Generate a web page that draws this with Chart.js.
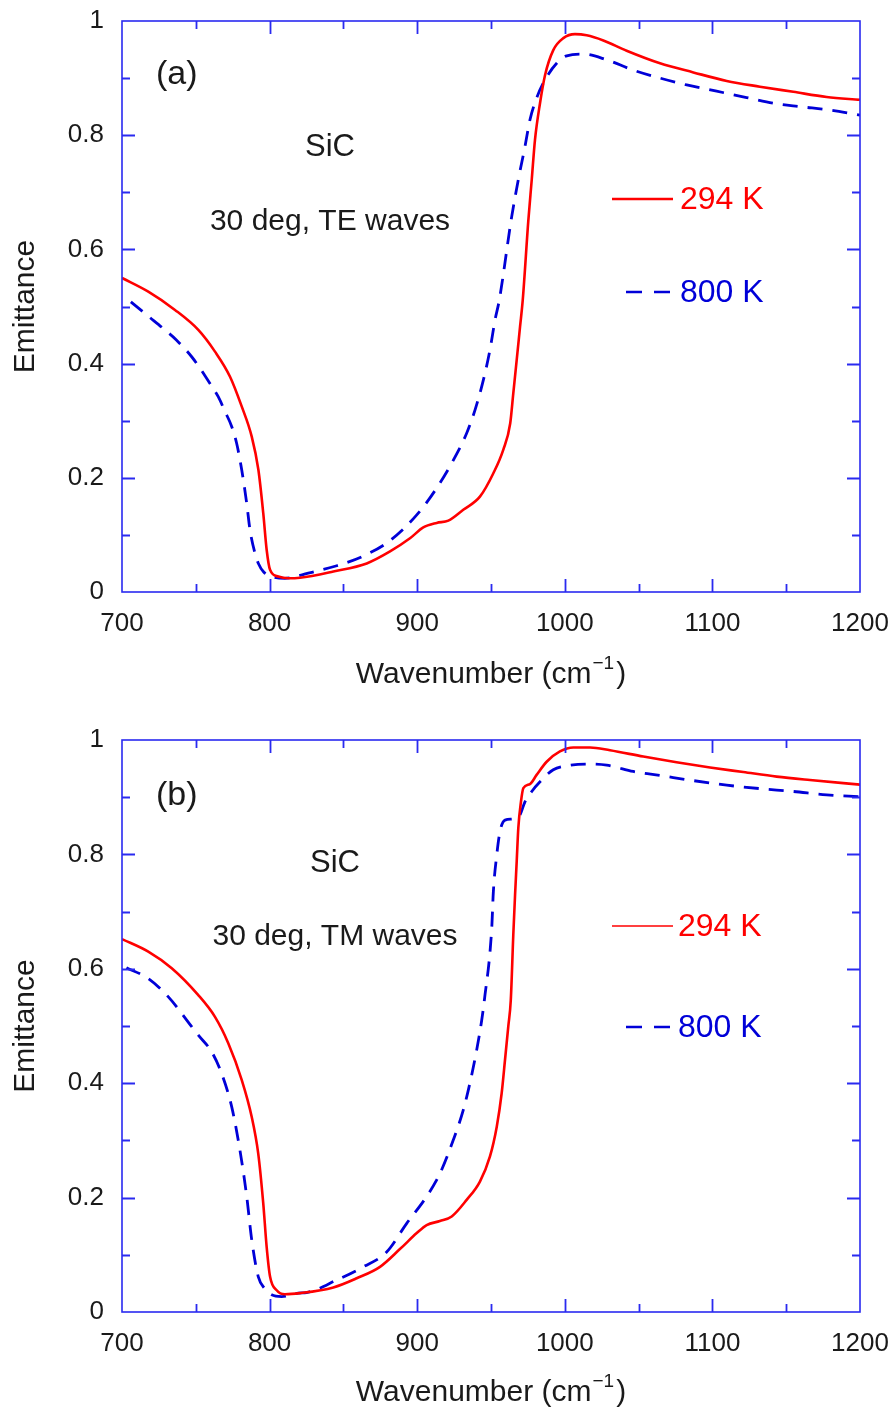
<!DOCTYPE html>
<html>
<head>
<meta charset="utf-8">
<title>SiC emittance</title>
<script src="https://cdn.jsdelivr.net/npm/chart.js@4.4.1/dist/chart.umd.min.js"></script>
<style>
  html, body { margin: 0; padding: 0; background: #fff; }
  #wrap { position: relative; width: 896px; height: 1414px; }
  canvas { position: absolute; left: 0; }
  #chartTE { top: 0; }
  #chartTM { top: 707px; }
</style>
</head>
<body>
<div id="wrap">
  <canvas id="chartTE" width="896" height="707"></canvas>
  <canvas id="chartTM" width="896" height="707"></canvas>
</div>
<script>
// x ticks and y ticks
const wnTicks = [700, 800, 900, 1000, 1100, 1200];
const emTicks = [0, 0.2, 0.4, 0.6, 0.8, 1];

// (a) TE waves, 294 K
const te294Wn = [700, 717.8, 735.9, 751.7, 763, 773.2, 781.1, 787.9, 792.4, 795.7, 798, 800.3, 805.9, 812.7,
  820.6, 843.2, 865.8, 881.6, 895.1, 904.1, 913.2, 921.1, 931.2, 942.5, 951.6, 958.3, 963, 965.1, 967.4,
  969.7, 971.5, 975.3, 977.6, 979.8, 983.2, 986.6, 992.2, 999, 1006.9, 1014.8, 1026.1, 1041.9, 1064.5,
  1087.1, 1109.7, 1132.2, 1154.8, 1177.4, 1200];
const te294Em = [0.550, 0.526, 0.494, 0.459, 0.421, 0.377, 0.325, 0.272, 0.214, 0.138, 0.074, 0.039, 0.027, 0.024,
  0.025, 0.036, 0.050, 0.071, 0.094, 0.113, 0.121, 0.125, 0.144, 0.167, 0.208, 0.249, 0.295, 0.348, 0.406,
  0.465, 0.511, 0.651, 0.722, 0.792, 0.856, 0.905, 0.949, 0.970, 0.977, 0.975, 0.966, 0.948, 0.926,
  0.910, 0.895, 0.885, 0.876, 0.867, 0.862];

// (a) TE waves, 800 K
const te800Wn = [706, 717.8, 729.1, 737, 747.2, 752.8, 759.6, 765.2, 769.8, 774.3, 777.7, 781.1, 784.5, 786.7,
  790.1, 792.4, 796, 801.4, 810.4, 826.2, 845.5, 863.5, 881.6, 899.7, 913.2, 924.5, 933.5, 939.2, 944.8,
  949.3, 952.7, 955.6, 964, 968.5, 973, 976.4, 980.9, 986.6, 994.5, 1001.3, 1012.6, 1028.4, 1046.4,
  1064.5, 1082.6, 1102.9, 1123.2, 1141.3, 1159.3, 1179.7, 1200];
const te800Em = [0.508, 0.483, 0.459, 0.441, 0.412, 0.392, 0.365, 0.342, 0.316, 0.290, 0.260, 0.214, 0.155, 0.109,
  0.068, 0.050, 0.035, 0.027, 0.024, 0.033, 0.046, 0.063, 0.090, 0.135, 0.182, 0.231, 0.278, 0.319, 0.371,
  0.424, 0.476, 0.511, 0.657, 0.722, 0.780, 0.827, 0.865, 0.897, 0.926, 0.939, 0.942, 0.932, 0.914,
  0.900, 0.888, 0.877, 0.866, 0.856, 0.850, 0.844, 0.835];

// (b) TM waves, 294 K
const tm294Wn = [700, 717.8, 733.7, 751.7, 763, 772, 781.1, 787.9, 792.3, 795.7, 798, 800.3, 804.8, 810.4,
  820.6, 843.2, 859, 874.8, 888.3, 899.7, 906.4, 915.4, 923.4, 933.5, 942.5, 949.3, 953.9, 957.2, 959.5,
  961.7, 963.4, 965.1, 966.3, 967.4, 968.5, 970.3, 971.9, 976.4, 980.9, 987.7, 996.7, 1005.8, 1017.1,
  1030.6, 1053.2, 1075.7, 1098.4, 1120.9, 1143.5, 1166.1, 1200];
const tm294Em = [0.652, 0.630, 0.601, 0.554, 0.516, 0.470, 0.406, 0.341, 0.277, 0.190, 0.114, 0.062, 0.038, 0.031,
  0.033, 0.043, 0.059, 0.079, 0.110, 0.138, 0.152, 0.159, 0.167, 0.196, 0.228, 0.272, 0.324, 0.382, 0.441,
  0.499, 0.545, 0.659, 0.729, 0.787, 0.846, 0.892, 0.916, 0.923, 0.939, 0.962, 0.980, 0.987, 0.987,
  0.982, 0.971, 0.961, 0.952, 0.944, 0.936, 0.930, 0.922];

// (b) TM waves, 800 K
const tm800Wn = [703, 717.8, 731.4, 747.2, 751.7, 760.7, 767.5, 774.3, 779.9, 784.5, 787.9, 792.3, 797, 801.4,
  808.2, 819.4, 825.1, 845.5, 863.5, 879.3, 892.9, 906.4, 915.4, 924.5, 931.2, 935.7, 940.3, 943.7, 945.5,
  950.5, 951.6, 953.9, 956.1, 959.5, 965.1, 969.6, 973, 977.6, 983.2, 992.2, 1001.3, 1014.8, 1028.4,
  1046.4, 1064.5, 1087.1, 1109.7, 1132.2, 1154.8, 1177.4, 1200];
const tm800Em = [0.602, 0.583, 0.551, 0.499, 0.484, 0.455, 0.417, 0.359, 0.283, 0.202, 0.126, 0.062, 0.040, 0.030,
  0.027, 0.033, 0.034, 0.056, 0.079, 0.105, 0.155, 0.202, 0.242, 0.301, 0.353, 0.400, 0.458, 0.510, 0.545,
  0.671, 0.735, 0.799, 0.840, 0.860, 0.862, 0.869, 0.892, 0.910, 0.927, 0.948, 0.955, 0.958, 0.956,
  0.945, 0.938, 0.929, 0.921, 0.915, 0.910, 0.904, 0.901];

const AXIS_BLUE = '#2a2af0';
const RED = '#ff0000';
const BLUE = '#0000d8';
const INK = '#1a1a1a';
const FONT = '"Liberation Sans", Arial, sans-serif';

function pts(xs, ys) {
  return xs.map((x, i) => ({ x: x, y: ys[i] }));
}

// frame, inward ticks, axis titles and text labels
const panelDecor = {
  id: 'panelDecor',
  afterDraw(chart, args, opts) {
    const { ctx, chartArea: a } = chart;
    const xs = chart.scales.x, ys = chart.scales.y;
    ctx.save();
    ctx.strokeStyle = AXIS_BLUE;
    ctx.lineWidth = 1.6;
    ctx.strokeRect(a.left, a.top, a.right - a.left, a.bottom - a.top);

    ctx.lineWidth = 1.8;
    ctx.beginPath();
    for (let v = 750; v < 1200; v += 50) {
      const len = v % 100 === 0 ? 13 : 8;
      const px = Math.round(xs.getPixelForValue(v)) + 0.5;
      ctx.moveTo(px, a.bottom); ctx.lineTo(px, a.bottom - len);
      ctx.moveTo(px, a.top); ctx.lineTo(px, a.top + len);
    }
    for (let i = 1; i < 10; i++) {
      const len = i % 2 === 0 ? 13 : 8;
      const py = Math.round(ys.getPixelForValue(i / 10)) + 0.5;
      ctx.moveTo(a.left, py); ctx.lineTo(a.left + len, py);
      ctx.moveTo(a.right, py); ctx.lineTo(a.right - len, py);
    }
    ctx.stroke();

    // y title
    ctx.fillStyle = INK;
    ctx.font = '30px ' + FONT;
    ctx.textAlign = 'center';
    ctx.textBaseline = 'middle';
    ctx.save();
    ctx.translate(26, (a.top + a.bottom) / 2);
    ctx.rotate(-Math.PI / 2);
    ctx.fillText('Emittance', 0, 0);
    ctx.restore();

    // x title with superscript
    const ty = a.bottom + opts.xTitleGap;
    const main = 'Wavenumber (cm';
    const sup = '\u22121';
    ctx.font = '30px ' + FONT;
    const wMain = ctx.measureText(main).width;
    const wClose = ctx.measureText(')').width;
    ctx.font = '19px ' + FONT;
    const wSup = ctx.measureText(sup).width + 3;
    const total = wMain + wSup + wClose;
    let x0 = 491 - total / 2;
    ctx.textAlign = 'left';
    ctx.font = '30px ' + FONT;
    ctx.fillText(main, x0, ty);
    ctx.font = '19px ' + FONT;
    ctx.fillText(sup, x0 + wMain + 1, ty - 11);
    ctx.font = '30px ' + FONT;
    ctx.fillText(')', x0 + wMain + wSup, ty);

    // panel letter, material, incidence note
    ctx.font = '34px ' + FONT;
    ctx.fillText(opts.letter, 156, opts.letterY);
    ctx.textAlign = 'center';
    ctx.font = '31px ' + FONT;
    ctx.fillText('SiC', opts.noteX, opts.sicY);
    ctx.font = '30px ' + FONT;
    ctx.fillText(opts.note, opts.noteX, opts.noteY);

    // key
    ctx.lineWidth = opts.keyRedWidth;
    ctx.strokeStyle = RED;
    ctx.beginPath();
    ctx.moveTo(612, opts.key1Y); ctx.lineTo(673, opts.key1Y);
    ctx.stroke();
    ctx.strokeStyle = BLUE;
    ctx.lineWidth = 2.6;
    ctx.setLineDash([16, 12]);
    ctx.beginPath();
    ctx.moveTo(626, opts.key2Y); ctx.lineTo(672, opts.key2Y);
    ctx.stroke();
    ctx.setLineDash([]);
    ctx.textAlign = 'left';
    ctx.font = '32px ' + FONT;
    ctx.fillStyle = RED;
    ctx.fillText('294 K', opts.keyTextX, opts.key1Y + 1);
    ctx.fillStyle = BLUE;
    ctx.fillText('800 K', opts.keyTextX, opts.key2Y + 1);
    ctx.restore();
  }
};

function makePanel(id, hot, cold, decor, padTop, xAxisHeight) {
  return new Chart(document.getElementById(id), {
    type: 'line',
    data: {
      datasets: [
        {
          label: '294 K',
          data: hot,
          borderColor: RED,
          borderWidth: 2.6,
          pointRadius: 0,
          cubicInterpolationMode: 'monotone'
        },
        {
          label: '800 K',
          data: cold,
          borderColor: BLUE,
          borderWidth: 2.8,
          borderDash: [15, 10],
          pointRadius: 0,
          cubicInterpolationMode: 'monotone'
        }
      ]
    },
    options: {
      responsive: false,
      animation: false,
      layout: { padding: { left: 0, right: 36, top: padTop, bottom: 0 } },
      plugins: {
        legend: { display: false },
        tooltip: { enabled: false },
        panelDecor: decor
      },
      scales: {
        x: {
          type: 'linear',
          min: 700,
          max: 1200,
          afterBuildTicks: (s) => { s.ticks = wnTicks.map(v => ({ value: v })); },
          afterFit: (s) => {
            s.height = xAxisHeight;
            s.paddingLeft = 0;
            s.paddingRight = 0;
          },
          grid: { display: false, drawTicks: false },
          border: { display: false },
          ticks: {
            padding: 16, color: INK, font: { size: 26, family: FONT },
            callback: (v) => String(v)
          }
        },
        y: {
          min: 0,
          max: 1,
          afterBuildTicks: (s) => { s.ticks = emTicks.map(v => ({ value: v })); },
          afterFit: (s) => {
            s.width = 122;
            s.paddingTop = 0;
            s.paddingBottom = 0;
          },
          grid: { display: false, drawTicks: false },
          border: { display: false },
          ticks: {
            padding: 18, color: INK, font: { size: 26, family: FONT },
            callback: (v) => (v === 0 || v === 1) ? String(v) : v.toFixed(1)
          }
        }
      }
    },
    plugins: [panelDecor]
  });
}

makePanel('chartTE', pts(te294Wn, te294Em), pts(te800Wn, te800Em), {
  letter: '(a)', letterY: 75, noteX: 330, sicY: 147, note: '30 deg, TE waves', noteY: 222,
  key1Y: 199, key2Y: 292, keyTextX: 680, keyRedWidth: 2.4, xTitleGap: 83
}, 21, 115);

makePanel('chartTM', pts(tm294Wn, tm294Em), pts(tm800Wn, tm800Em), {
  letter: '(b)', letterY: 89, noteX: 335, sicY: 156, note: '30 deg, TM waves', noteY: 230,
  key1Y: 219, key2Y: 320, keyTextX: 678, keyRedWidth: 1.4, xTitleGap: 81
}, 33, 102);
</script>
</body>
</html>
